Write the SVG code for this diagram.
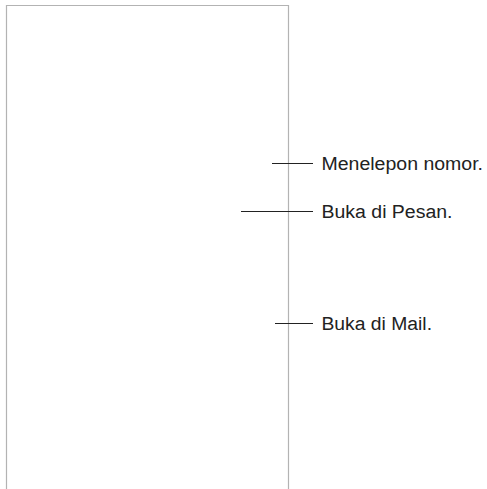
<svg xmlns="http://www.w3.org/2000/svg" width="487" height="489" viewBox="0 0 487 489">
<style>
.frame{fill:none;stroke:#b3b3b3;stroke-width:1.2}
.lead{stroke:#222;stroke-width:1.1}
.lbl{font-family:"Liberation Sans",Arial,sans-serif;font-size:18px;fill:#222}
</style>
<rect width="487" height="489" fill="#fff"/>
<g id="device">
<path class="frame" d="M6.5,492 V5.5 H288.5 V492"/>
</g>
<g id="connectors">
<line class="lead" x1="272" y1="163.5" x2="313" y2="163.5"/>
<line class="lead" x1="241" y1="211.5" x2="313" y2="211.5"/>
<line class="lead" x1="275" y1="323.5" x2="313" y2="323.5"/>
</g>
<g id="label-call"><text class="lbl" x="321.5" y="170" textLength="161.5" lengthAdjust="spacingAndGlyphs">Menelepon nomor.</text></g>
<g id="label-messages"><text class="lbl" x="321.5" y="218" textLength="131" lengthAdjust="spacingAndGlyphs">Buka di Pesan.</text></g>
<g id="label-mail"><text class="lbl" x="321.5" y="330" textLength="110.5" lengthAdjust="spacingAndGlyphs">Buka di Mail.</text></g>
</svg>
